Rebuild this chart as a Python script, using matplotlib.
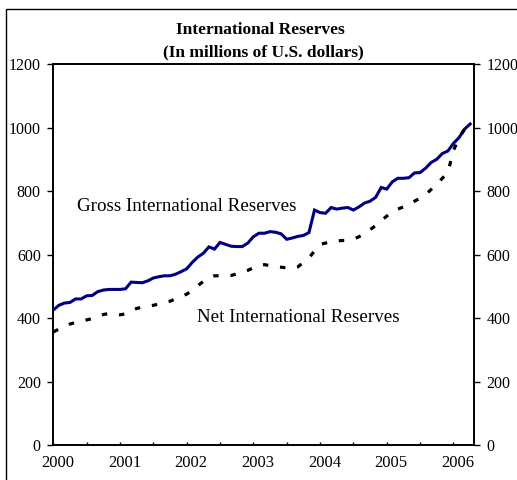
import numpy as np
import matplotlib
matplotlib.use("Agg")
import matplotlib.pyplot as plt
import matplotlib.transforms as mtransforms
from matplotlib.patches import Rectangle
from matplotlib.ticker import MultipleLocator

plt.rcParams["font.family"] = "serif"
plt.rcParams["font.serif"] = ["Liberation Serif", "DejaVu Serif"]

# monthly observations, Jan 2000 .. Apr 2006 (millions of US$)
gross_reserves = [
    425, 440, 447, 449, 460, 460, 470, 471, 483, 488, 490, 490,
    490, 492, 513, 512, 511, 517, 526, 530, 533, 533, 538, 546,
    555, 575, 592, 604, 624, 617, 638, 632, 626, 625, 625, 636,
    656, 667, 667, 672, 670, 665, 648, 652, 657, 660, 669, 740,
    732, 730, 748, 743, 746, 748, 740, 750, 762, 768, 780, 811,
    806, 829, 840, 840, 842, 857, 858, 872, 890, 900, 918, 926,
    950, 968, 995, 1011,
]
net_reserves = [
    356, 365, 373, 381, 386, 390, 394, 398, 405, 411, 414, 412,
    410, 413, 422, 430, 434, 437, 440, 444, 449, 453, 460, 468,
    475, 487, 502, 515, 525, 533, 533, 533, 534, 539, 545, 550,
    558, 567, 568, 565, 562, 560, 558, 557, 561, 575, 589, 611,
    632, 636, 640, 643, 644, 645, 648, 656, 665, 678, 691, 706,
    721, 736, 743, 750, 758, 768, 777, 789, 805, 821, 840, 859,
    927, 968, 994, 1011,
]
year_labels = ["2000", "2001", "2002", "2003", "2004", "2005", "2006"]
y_ticks = [0, 200, 400, 600, 800, 1000, 1200]

months = np.arange(len(gross_reserves))

fig = plt.figure(figsize=(5.17, 4.8), dpi=100)
ax = fig.add_axes([53.3 / 517, 1 - 445 / 480, (474 - 53.3) / 517, (445 - 64) / 480])

ax.plot(months, gross_reserves, color="#000080", lw=2.2, solid_joinstyle="miter", zorder=3)
ax.plot(months, net_reserves, color="black", lw=2.3,
        linestyle=(0, (1.7, 3.7)), dash_capstyle="butt", zorder=4)

ax.set_xlim(0, 75.7)
ax.set_ylim(0, 1200)
ax.set_yticks(y_ticks)
ax.set_yticklabels([str(v) for v in y_ticks])
ax.set_xticks(np.arange(0, 73, 12))
ax.set_xticklabels(year_labels)
ax.xaxis.set_minor_locator(MultipleLocator(6))

for side in ["left", "right", "top", "bottom"]:
    ax.spines[side].set_linewidth(1.4)
    ax.spines[side].set_color("black")

ax.tick_params(axis="y", which="both", direction="out", length=4, width=1,
               left=True, right=True, labelleft=True, labelright=True,
               labelsize=11.5, pad=5)
ax.tick_params(axis="x", which="both", direction="in", length=2.5, width=1,
               labelsize=12, pad=7)

# year labels sit a little to the right of their tick marks
shift = mtransforms.ScaledTranslation(4.5 / 100, 0, fig.dpi_scale_trans)
for lbl in ax.get_xticklabels():
    lbl.set_transform(lbl.get_transform() + shift)

ax.text(4.3, 737, "Gross International Reserves", fontsize=13.7,
        ha="left", va="baseline")
ax.text(25.8, 388, "Net International Reserves", fontsize=13.7,
        ha="left", va="baseline")

fig.text(260 / 517, 1 - 34 / 480, "International Reserves",
         fontsize=12.5, fontweight="bold", ha="center", va="baseline")
fig.text(263 / 517, 1 - 56.7 / 480, "(In millions of U.S. dollars)",
         fontsize=12.5, fontweight="bold", ha="center", va="baseline")

# outer chart border
fig.patches.append(Rectangle((5.5 / 517, -0.05), 1.2, 1.05 - 8.5 / 480,
                             transform=fig.transFigure, fill=False,
                             edgecolor="black", lw=1.0, clip_on=False))

fig.savefig("out.png", dpi=100)
